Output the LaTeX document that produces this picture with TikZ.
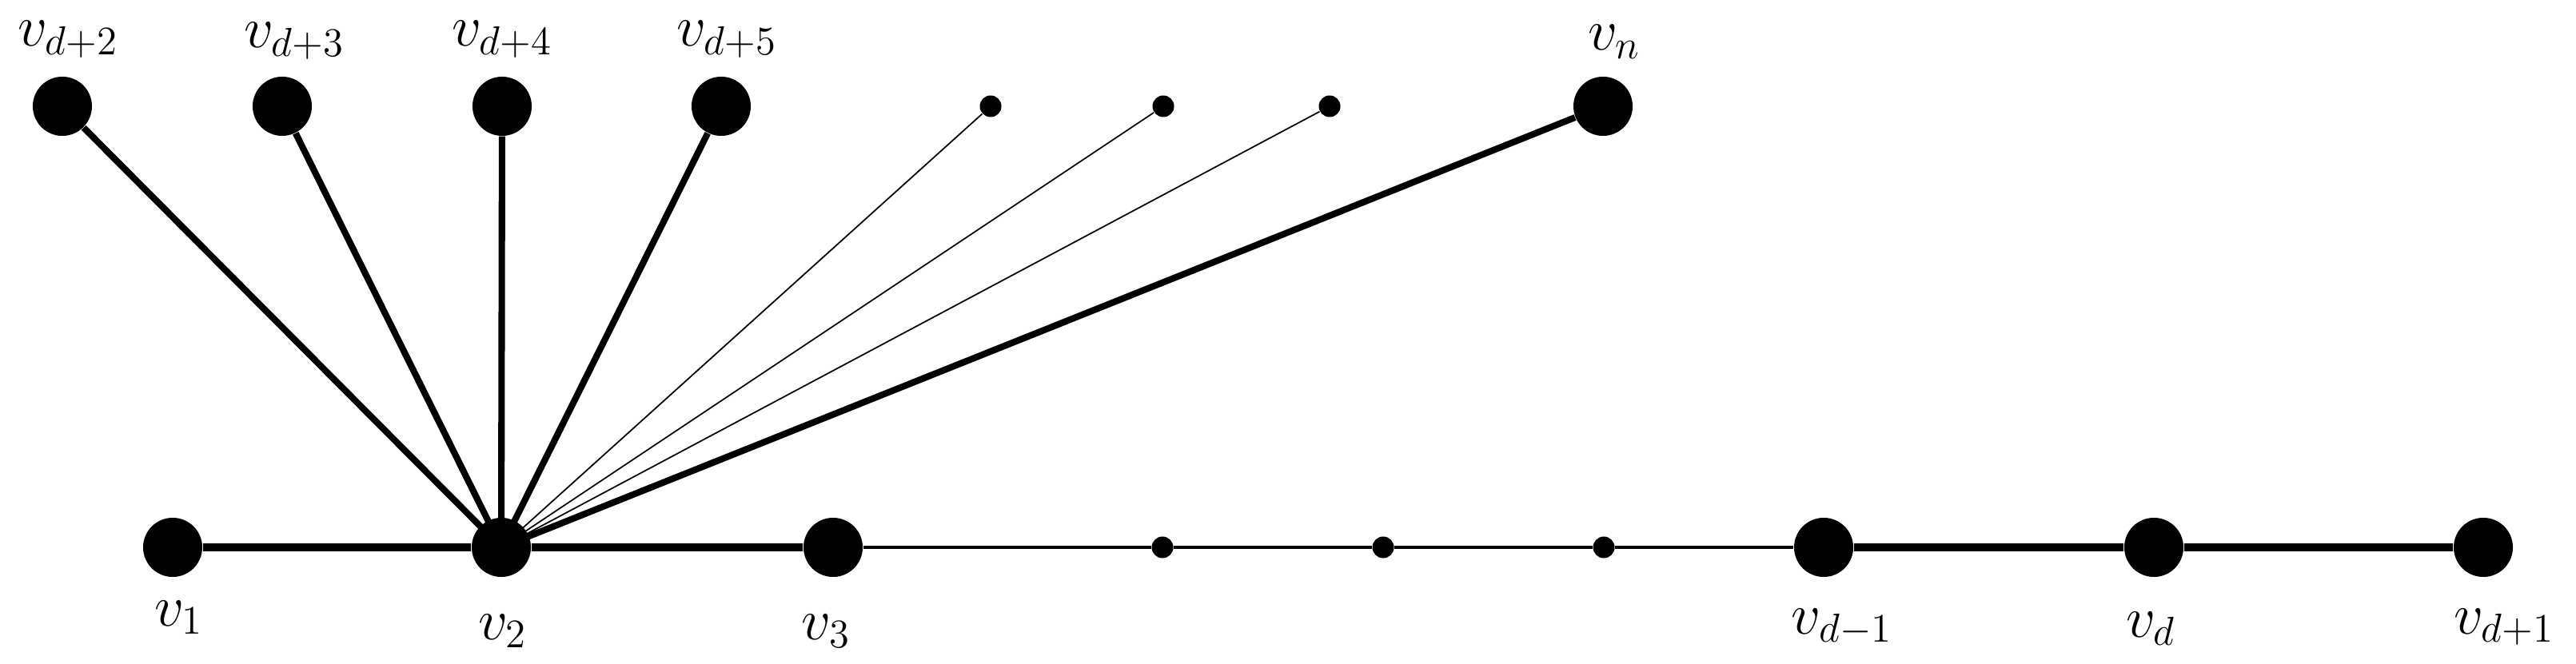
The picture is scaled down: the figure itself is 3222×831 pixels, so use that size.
\documentclass[tikz,border=0pt]{standalone}
\begin{document}
\begin{tikzpicture}[x=0.01cm,y=-0.01cm,
  vtx/.style={circle,fill=black,draw=none,inner sep=0pt,minimum size=0.74cm},
  dotv/.style={circle,fill=black,draw=none,inner sep=0pt,minimum size=0.27cm},
  lbl/.style={anchor=base,inner sep=0pt,font=\fontsize{20}{24}\selectfont},
  thickedge/.style={line width=2.65pt},
  spoke/.style={line width=2.3pt},
  thinedge/.style={line width=1pt},
  hairedge/.style={line width=0.5pt}]
\useasboundingbox (0,0) rectangle (3222,831);
% bottom path
\node[vtx] (v1) at (216,685) {};
\node[vtx] (v2) at (627,685) {};
\node[vtx] (v3) at (1042,685) {};
\node[dotv] (p1) at (1454,685) {};
\node[dotv] (p2) at (1730,685) {};
\node[dotv] (p3) at (2006,685) {};
\node[vtx] (vdm) at (2281,685) {};
\node[vtx] (vd) at (2694,685) {};
\node[vtx] (vdp) at (3106,685) {};
% top vertices
\node[vtx] (t2) at (78,133) {};
\node[vtx] (t3) at (353,133) {};
\node[vtx] (t4) at (628,133) {};
\node[vtx] (t5) at (902,133) {};
\node[dotv] (q1) at (1239,133) {};
\node[dotv] (q2) at (1455,133) {};
\node[dotv] (q3) at (1663,133) {};
\node[vtx] (tn) at (2005,133) {};
% edges
\draw[thickedge] (v1) -- (v2);
\draw[thickedge] (v2) -- (v3);
\draw[thinedge] (v3) -- (p1) -- (p2) -- (p3) -- (vdm);
\draw[thickedge] (vdm) -- (vd);
\draw[thickedge] (vd) -- (vdp);
\draw[spoke] (v2.center) -- (t2);
\draw[spoke] (v2.center) -- (t3);
\draw[spoke] (v2.center) -- (t4);
\draw[spoke] (v2.center) -- (t5);
\draw[hairedge] (v2.center) -- (q1);
\draw[hairedge] (v2.center) -- (q2);
\draw[hairedge] (v2.center) -- (q3);
\draw[spoke] (v2.center) -- (tn);
% labels
\node[lbl] (l2) at (85,58) {$v_{d+2}$};
\node[lbl] (l3) at (368,60) {$v_{d+3}$};
\node[lbl] (l4) at (628,58) {$v_{d+4}$};
\node[lbl] (l5) at (909,58) {$v_{d+5}$};
\node[lbl] (ln) at (2019,63) {$v_n$};
\node[lbl] (lv1) at (224,783) {$v_1$};
\node[lbl] (lv2) at (629,800) {$v_2$};
\node[lbl] (lv3) at (1033,800) {$v_3$};
\node[lbl] (lvdm) at (2304,793) {$v_{d-1}$};
\node[lbl] (lvd) at (2690,797) {$v_d$};
\node[lbl] (lvdp) at (3132,793) {$v_{d+1}$};
\end{tikzpicture}
\end{document}
